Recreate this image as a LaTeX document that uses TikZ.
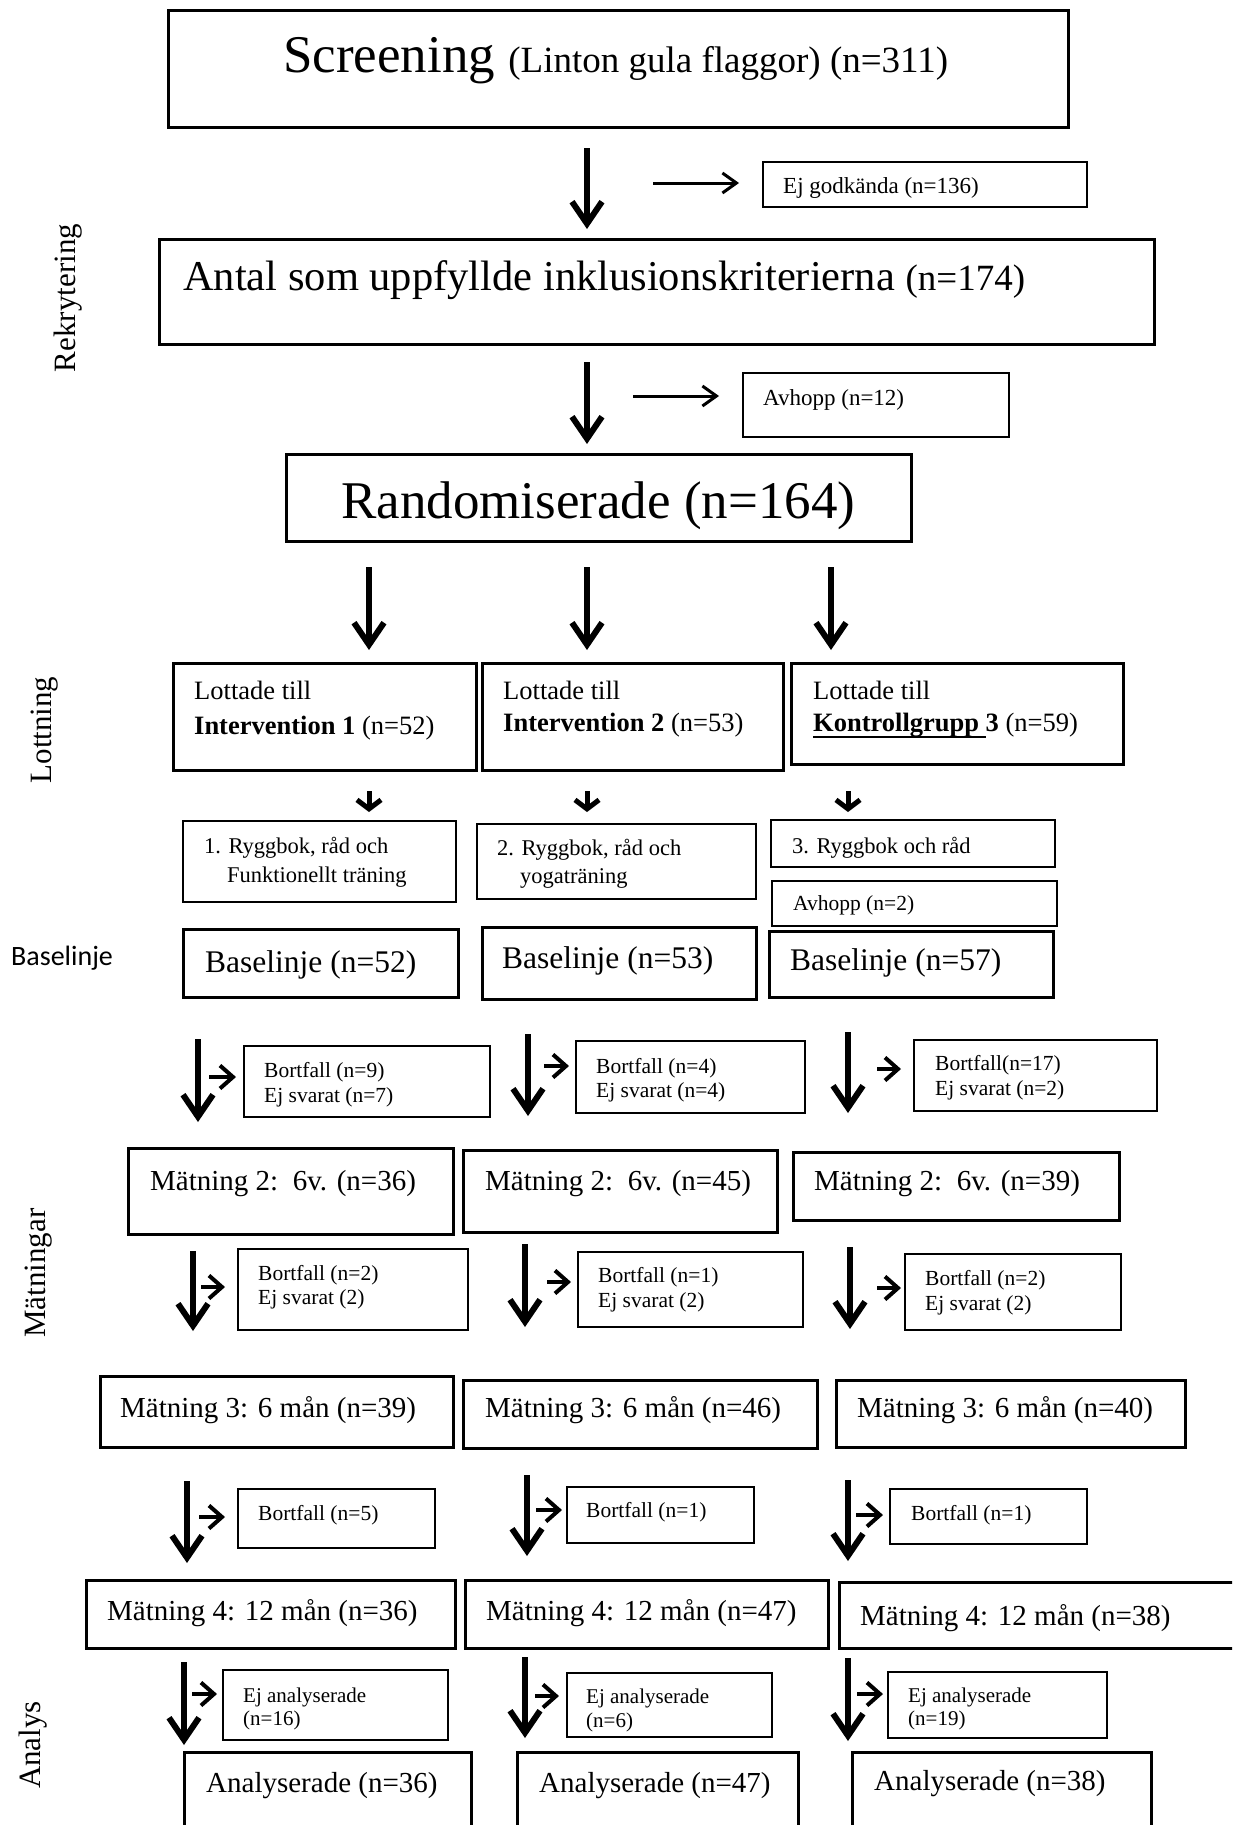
\documentclass[tikz,border=0pt]{standalone}
\usepackage{fontspec}
\setmainfont{Liberation Serif}
\newfontfamily\calib{Carlito}
\usetikzlibrary{arrows.meta}
\newcommand\myfs[1]{\fontsize{#1pt}{#1pt}\selectfont}
\newcommand\myul[1]{\setbox0\hbox{#1}\rlap{\rule[-7pt]{\wd0}{2.5pt}}\box0}
\begin{document}
\begin{tikzpicture}[x=1pt,y=-1pt,
  box/.style={draw, line width=3pt, anchor=north west, inner sep=0pt, outer sep=0pt},
  sbox/.style={draw, line width=1.4pt, anchor=north west, inner sep=0pt, outer sep=0pt},
  txt/.style={anchor=base west, inner sep=0pt},
  darr/.style={line width=6pt, -{Straight Barb[length=22pt,width=30pt]}},
  varr/.style={line width=5pt, -{Straight Barb[length=9pt,width=24pt]}},
  harr/.style={line width=3pt, -{Straight Barb[length=14pt,width=20pt]}},
  sarr/.style={line width=4pt, -{Straight Barb[length=13pt,width=23pt]}},
  side/.style={anchor=center, inner sep=0pt, rotate=90, font=\myfs{31}}
]
\useasboundingbox (0,0) rectangle (1232,1825);
\begin{scope}
\clip (0,0) rectangle (1232,1825);
% ---------- thick boxes
\node[box, minimum width=900pt, minimum height=117pt] (scr) at (168,11) {};
\node[box, minimum width=995pt, minimum height=105pt] (ant) at (159,239) {};
\node[box, minimum width=625pt, minimum height=87pt] (rnd) at (286,454) {};
\node[box, minimum width=303pt, minimum height=107pt] (lot1) at (173,663) {};
\node[box, minimum width=301pt, minimum height=107pt] (lot2) at (482,663) {};
\node[box, minimum width=332pt, minimum height=101pt] (lot3) at (791,663) {};
\node[box, minimum width=275pt, minimum height=68pt] (bas1) at (183,929) {};
\node[box, minimum width=274pt, minimum height=72pt] (bas2) at (482,927) {};
\node[box, minimum width=284pt, minimum height=66pt] (bas3) at (769,931) {};
\node[box, minimum width=325pt, minimum height=86pt] (mtwoa) at (128,1148) {};
\node[box, minimum width=314pt, minimum height=82pt] (mtwob) at (463,1150) {};
\node[box, minimum width=326pt, minimum height=68pt] (mtwoc) at (793,1152) {};
\node[box, minimum width=353pt, minimum height=71pt] (mthra) at (100,1376) {};
\node[box, minimum width=354pt, minimum height=68pt] (mthrb) at (463,1380) {};
\node[box, minimum width=349pt, minimum height=67pt] (mthrc) at (836,1380) {};
\node[box, minimum width=369pt, minimum height=68pt] (mfoua) at (86,1580) {};
\node[box, minimum width=363pt, minimum height=68pt] (mfoub) at (465,1580) {};
\node[box, minimum width=400pt, minimum height=66pt] (mfouc) at (839,1582) {};
\node[box, minimum width=287pt, minimum height=100pt] (ana) at (184,1752) {};
\node[box, minimum width=281pt, minimum height=100pt] (anb) at (517,1752) {};
\node[box, minimum width=299pt, minimum height=100pt] (anc) at (852,1752) {};
% ---------- thin boxes
\node[sbox, minimum width=324pt, minimum height=45pt] (ejg) at (763,162) {};
\node[sbox, minimum width=266pt, minimum height=64pt] (avh) at (743,373) {};
\node[sbox, minimum width=273pt, minimum height=81pt] (da) at (183,821) {};
\node[sbox, minimum width=279pt, minimum height=75pt] (db) at (477,824) {};
\node[sbox, minimum width=284pt, minimum height=47pt] (dc) at (771,820) {};
\node[sbox, minimum width=285pt, minimum height=45pt] (dd) at (772,881) {};
\node[sbox, minimum width=246pt, minimum height=71pt] (boa) at (244,1046) {};
\node[sbox, minimum width=229pt, minimum height=72pt] (bob) at (576,1041) {};
\node[sbox, minimum width=243pt, minimum height=71pt] (boc) at (914,1040) {};
\node[sbox, minimum width=230pt, minimum height=81pt] (bta) at (238,1249) {};
\node[sbox, minimum width=225pt, minimum height=75pt] (btb) at (578,1252) {};
\node[sbox, minimum width=216pt, minimum height=76pt] (btc) at (905,1254) {};
\node[sbox, minimum width=197pt, minimum height=59pt] (bha) at (238,1489) {};
\node[sbox, minimum width=187pt, minimum height=56pt] (bhb) at (567,1487) {};
\node[sbox, minimum width=197pt, minimum height=55pt] (bhc) at (890,1489) {};
\node[sbox, minimum width=225pt, minimum height=70pt] (eaa) at (223,1670) {};
\node[sbox, minimum width=205pt, minimum height=64pt] (eab) at (567,1673) {};
\node[sbox, minimum width=219pt, minimum height=66pt] (eac) at (888,1672) {};
\end{scope}
% ---------- texts
\node[txt] (scrt) at (283,73) {\myfs{53}Screening \myfs{37}(Linton gula flaggor) (n=311)};
\node[txt] (ejgt) at (783,193) {\myfs{23}Ej godkända (n=136)};
\node[txt] (antt) at (183,290) {\myfs{42.5}Antal som uppfyllde inklusionskriterierna \myfs{37}(n=174)};
\node[txt] (avht) at (763,405) {\myfs{23}Avhopp (n=12)};
\node[txt] (rndt) at (341,518) {\myfs{53}Randomiserade (n=164)};
\node[txt] (lota) at (194,699) {\myfs{26.5}Lottade till};
\node[txt] (lotb) at (194,734) {\myfs{26.5}\textbf{Intervention 1} (n=52)};
\node[txt] (lotc) at (503,699) {\myfs{26.5}Lottade till};
\node[txt] (lotd) at (503,731) {\myfs{26.5}\textbf{Intervention 2} (n=53)};
\node[txt] (lote) at (813,699) {\myfs{26.5}Lottade till};
\node[txt] (lotf) at (813,731) {\myfs{26.5}\myul{\textbf{Kontrollgrupp }}\textbf{3} (n=59)};
\node[txt] (dat) at (204,853) {\myfs{22.5}1. Ryggbok, råd och};
\node[txt] (dbt) at (227,882) {\myfs{22.5}Funktionellt träning};
\node[txt] (dct) at (497,855) {\myfs{22.5}2. Ryggbok, råd och};
\node[txt] (ddt) at (520,883) {\myfs{22.5}yogaträning};
\node[txt] (det) at (792,853) {\myfs{22.5}3. Ryggbok och råd};
\node[txt] (dft) at (793,910) {\myfs{21.5}Avhopp (n=2)};
\node[txt] (basl) at (11,965) {\calib\myfs{28}Baselinje};
\node[txt] (basat) at (205,972) {\myfs{31.5}Baselinje (n=52)};
\node[txt] (basbt) at (502,968) {\myfs{31.5}Baselinje (n=53)};
\node[txt] (basct) at (790,970) {\myfs{31.5}Baselinje (n=57)};
% row 1 losses
\node[txt] (boat) at (264,1077) {\myfs{21.5}Bortfall (n=9)};
\node[txt] (boau) at (264,1102) {\myfs{21.5}Ej svarat (n=7)};
\node[txt] (bobt) at (596,1073) {\myfs{21.5}Bortfall (n=4)};
\node[txt] (bobu) at (596,1097) {\myfs{21.5}Ej svarat (n=4)};
\node[txt] (boct) at (935,1070) {\myfs{21.5}Bortfall(n=17)};
\node[txt] (bocu) at (935,1095) {\myfs{21.5}Ej svarat (n=2)};
\node[txt] (mtwoat) at (150,1190) {\myfs{29}Mätning 2:\ \ 6v. (n=36)};
\node[txt] (mtwobt) at (485,1190) {\myfs{29}Mätning 2:\ \ 6v. (n=45)};
\node[txt] (mtwoct) at (814,1190) {\myfs{29}Mätning 2:\ \ 6v. (n=39)};
% row 2 losses
\node[txt] (btat) at (258,1280) {\myfs{21.5}Bortfall (n=2)};
\node[txt] (btau) at (258,1304) {\myfs{21.5}Ej svarat (2)};
\node[txt] (btbt) at (598,1282) {\myfs{21.5}Bortfall (n=1)};
\node[txt] (btbu) at (598,1307) {\myfs{21.5}Ej svarat (2)};
\node[txt] (btct) at (925,1285) {\myfs{21.5}Bortfall (n=2)};
\node[txt] (btcu) at (925,1310) {\myfs{21.5}Ej svarat (2)};
\node[txt] (mthrat) at (120,1417) {\myfs{29}Mätning 3: 6 mån (n=39)};
\node[txt] (mthrbt) at (485,1417) {\myfs{29}Mätning 3: 6 mån (n=46)};
\node[txt] (mthrct) at (857,1417) {\myfs{29}Mätning 3: 6 mån (n=40)};
% row 3 losses
\node[txt] (bhat) at (258,1520) {\myfs{21.5}Bortfall (n=5)};
\node[txt] (bhbt) at (586,1517) {\myfs{21.5}Bortfall (n=1)};
\node[txt] (bhct) at (911,1520) {\myfs{21.5}Bortfall (n=1)};
\node[txt] (mfouat) at (107,1620) {\myfs{29}Mätning 4: 12 mån (n=36)};
\node[txt] (mfoubt) at (486,1620) {\myfs{29}Mätning 4: 12 mån (n=47)};
\node[txt] (mfouct) at (860,1625) {\myfs{29}Mätning 4: 12 mån (n=38)};
% row 4
\node[txt] (eaat) at (243,1702) {\myfs{21}Ej analyserade};
\node[txt] (eaau) at (243,1725) {\myfs{21}(n=16)};
\node[txt] (eabt) at (586,1703) {\myfs{21}Ej analyserade};
\node[txt] (eabu) at (586,1727) {\myfs{21}(n=6)};
\node[txt] (eact) at (908,1702) {\myfs{21}Ej analyserade};
\node[txt] (eacu) at (908,1725) {\myfs{21}(n=19)};
\node[txt] (anat) at (206,1792) {\myfs{29}Analyserade (n=36)};
\node[txt] (anbt) at (539,1792) {\myfs{29}Analyserade (n=47)};
\node[txt] (anct) at (874,1790) {\myfs{29}Analyserade (n=38)};
% side labels
\node[side] (lrek) at (68,298) {Rekrytering};
\node[side] (llot) at (45,730) {Lottning};
\node[side] (lmat) at (39,1273) {Mätningar};
\node[side] (lana) at (33,1745) {Analys};
% ---------- arrow coordinates
\coordinate (pa1) at (587,148); \coordinate (qa1) at (587,229);
\coordinate (pa2) at (587,362); \coordinate (qa2) at (587,444);
\coordinate (pb1) at (369,567); \coordinate (qb1) at (369,650);
\coordinate (pb2) at (587,567); \coordinate (qb2) at (587,650);
\coordinate (pb3) at (831,567); \coordinate (qb3) at (831,650);
\coordinate (pc1) at (369,791); \coordinate (qc1) at (369,812);
\coordinate (pc2) at (587,791); \coordinate (qc2) at (587,812);
\coordinate (pc3) at (848,791); \coordinate (qc3) at (848,812);
\coordinate (pd1) at (198,1039); \coordinate (qd1) at (198,1122);
\coordinate (pd2) at (528,1034); \coordinate (qd2) at (528,1116);
\coordinate (pd3) at (848,1032); \coordinate (qd3) at (848,1113);
\coordinate (pe1) at (193,1251); \coordinate (qe1) at (193,1331);
\coordinate (pe2) at (525,1244); \coordinate (qe2) at (525,1327);
\coordinate (pe3) at (850,1247); \coordinate (qe3) at (850,1329);
\coordinate (pf1) at (187,1481); \coordinate (qf1) at (187,1563);
\coordinate (pf2) at (527,1475); \coordinate (qf2) at (527,1556);
\coordinate (pf3) at (848,1480); \coordinate (qf3) at (848,1561);
\coordinate (pg1) at (184,1662); \coordinate (qg1) at (184,1745);
\coordinate (pg2) at (525,1657); \coordinate (qg2) at (525,1738);
\coordinate (pg3) at (848,1658); \coordinate (qg3) at (848,1741);
% side arrows
\coordinate (ph1) at (653,183); \coordinate (qh1) at (739,183);
\coordinate (ph2) at (633,396); \coordinate (qh2) at (719,396);
\coordinate (ps1) at (209,1077); \coordinate (qs1) at (236,1077);
\coordinate (ps2) at (544,1066); \coordinate (qs2) at (569,1066);
\coordinate (ps3) at (877,1069); \coordinate (qs3) at (901,1069);
\coordinate (ps4) at (201,1287); \coordinate (qs4) at (225,1287);
\coordinate (ps5) at (547,1282); \coordinate (qs5) at (571,1282);
\coordinate (ps6) at (877,1288); \coordinate (qs6) at (901,1288);
\coordinate (ps7) at (199,1517); \coordinate (qs7) at (225,1517);
\coordinate (ps8) at (536,1510); \coordinate (qs8) at (562,1510);
\coordinate (ps9) at (856,1515); \coordinate (qs9) at (883,1515);
\coordinate (ps10) at (192,1694); \coordinate (qs10) at (217,1694);
\coordinate (ps11) at (535,1696); \coordinate (qs11) at (559,1696);
\coordinate (ps12) at (857,1694); \coordinate (qs12) at (883,1694);
% ---------- arrows
\foreach \n in {a1,a2,b1,b2,b3,d1,d2,d3,e1,e2,e3,f1,f2,f3,g1,g2,g3}
  \draw[darr] (p\n) -- (q\n);
\foreach \n in {c1,c2,c3}
  \draw[varr] (p\n) -- (q\n);
\foreach \n in {h1,h2}
  \draw[harr] (p\n) -- (q\n);
\foreach \n in {s1,s2,s3,s4,s5,s6,s7,s8,s9,s10,s11,s12}
  \draw[sarr] (p\n) -- (q\n);
\end{tikzpicture}
\end{document}
